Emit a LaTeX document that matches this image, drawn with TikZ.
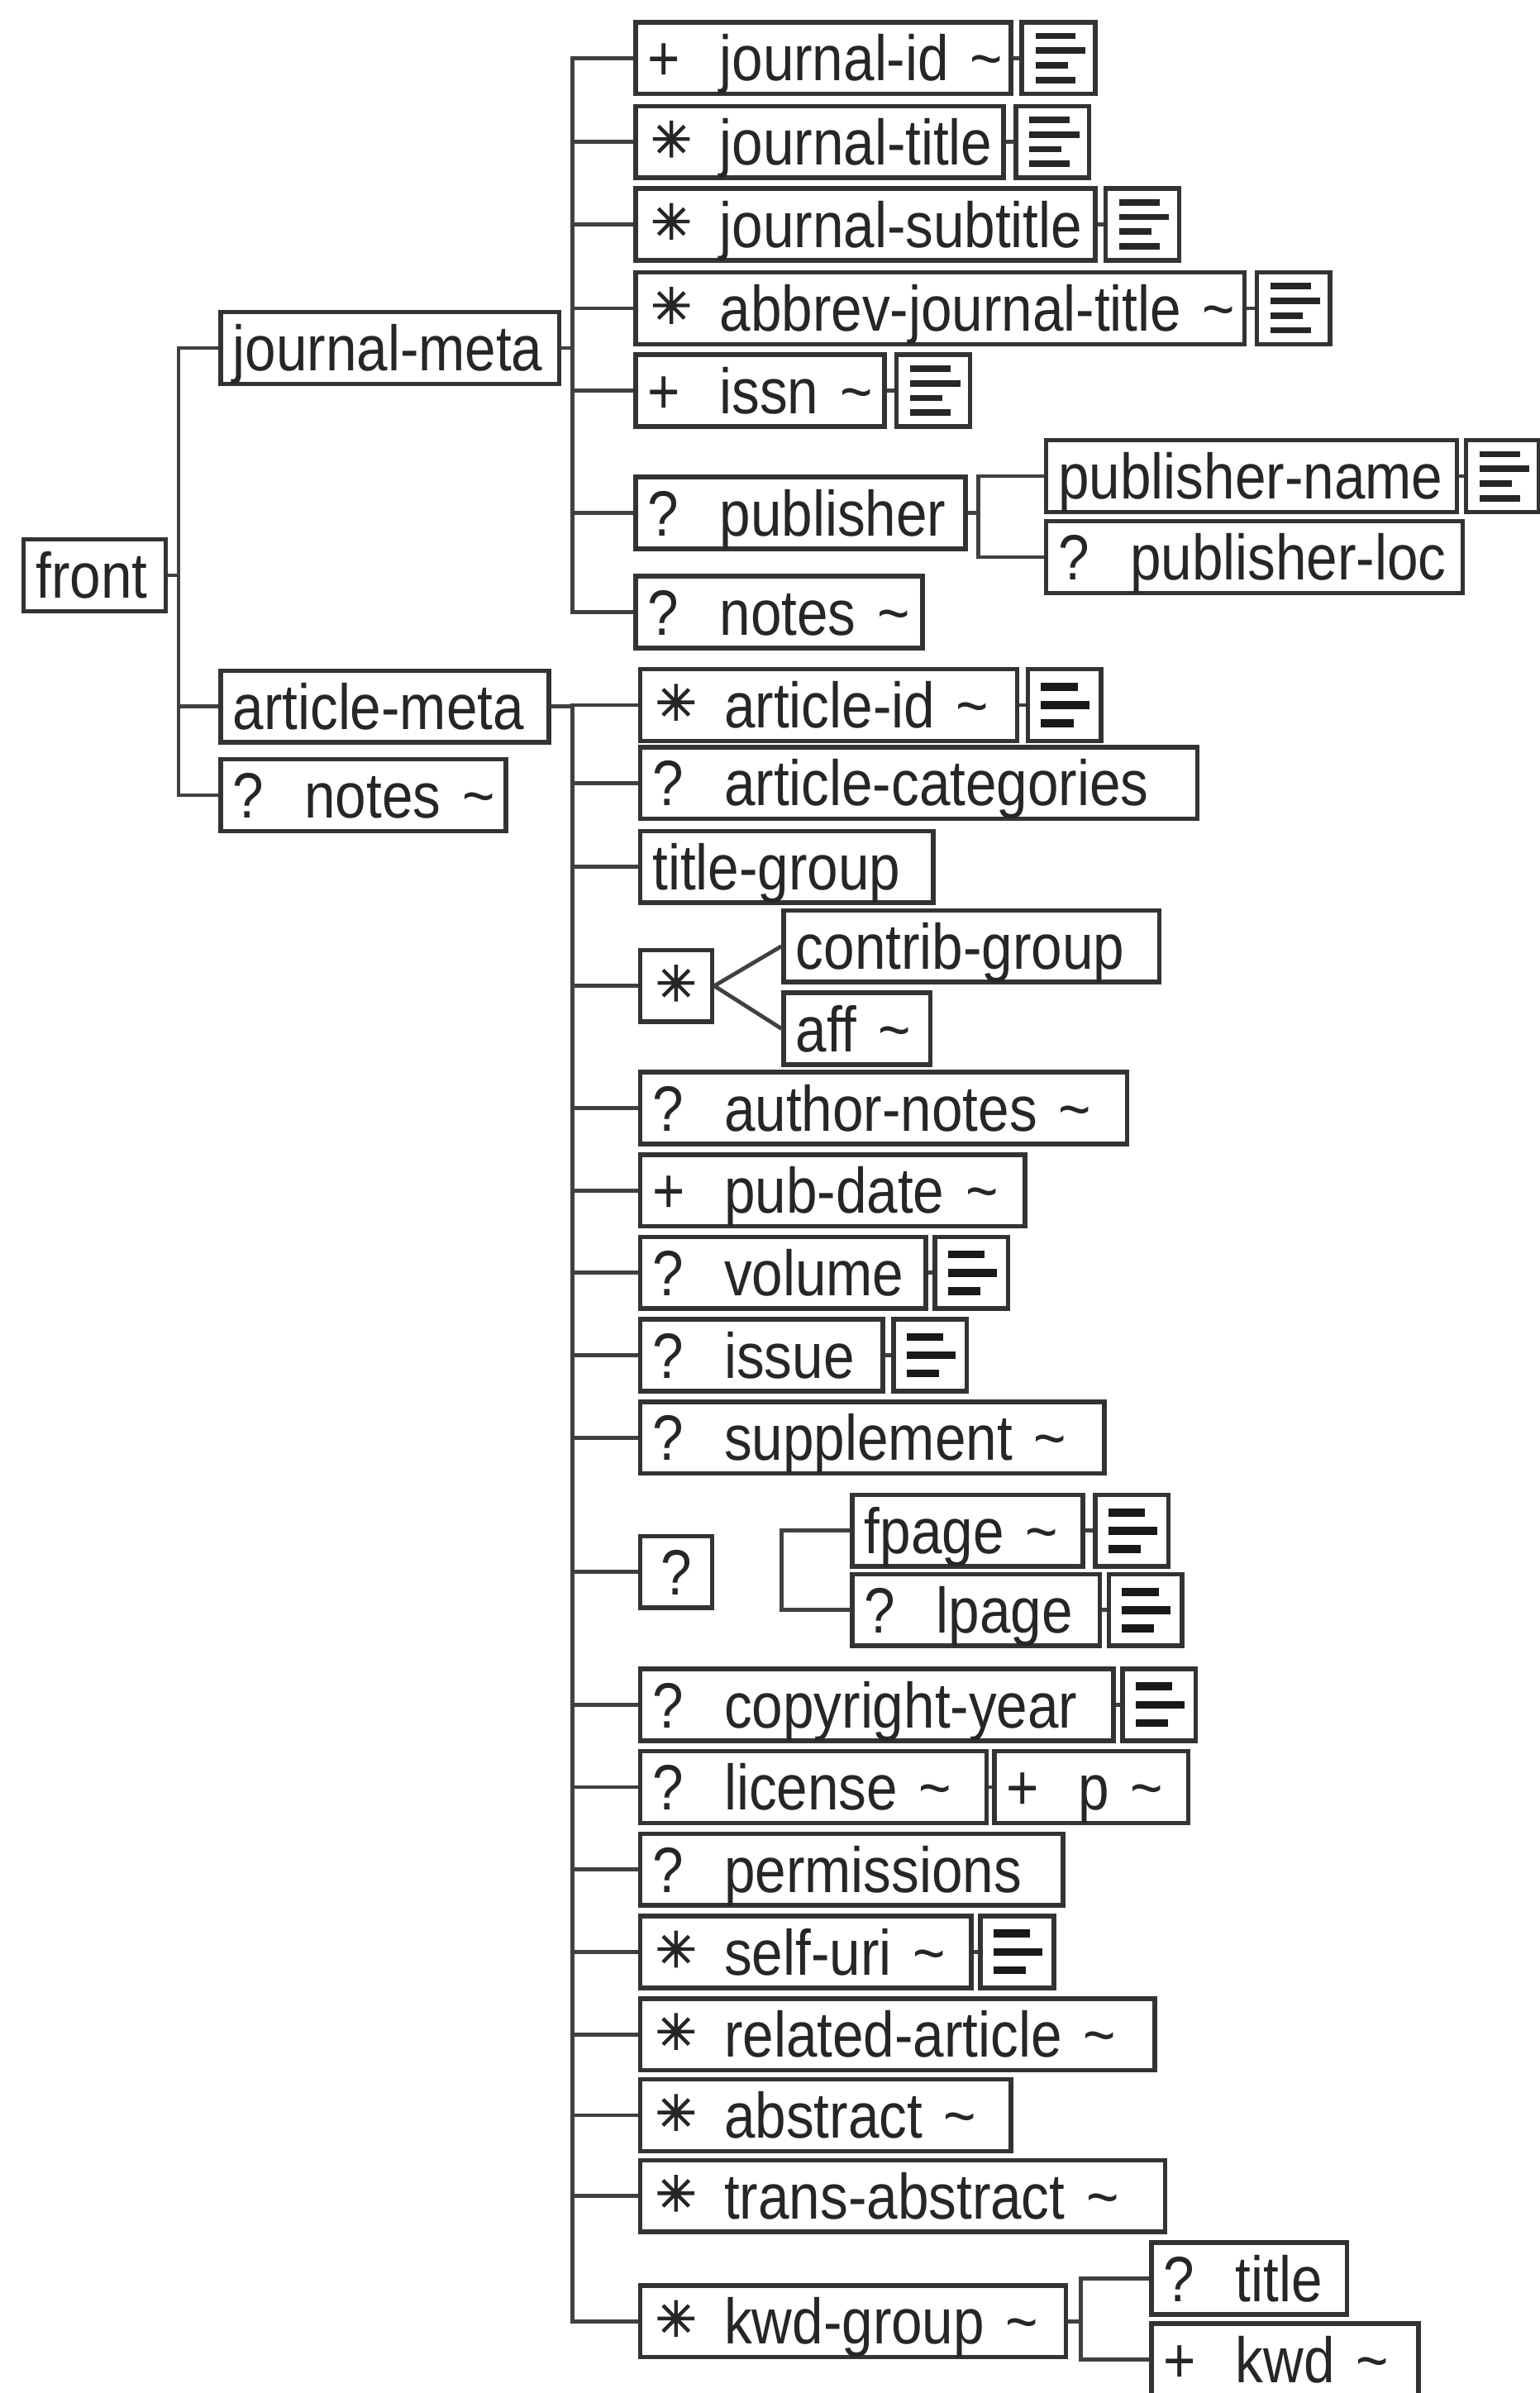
\documentclass[tikz,border=0pt]{standalone}
\usepackage{fontspec}
\usetikzlibrary{calc}
\newfontfamily\lab[FakeStretch=0.87]{Liberation Sans}
\newfontfamily\djv[FakeBold=2.5]{DejaVu Sans}
\newcommand\Tld{\textasciitilde}
\newcommand\Ppf[1]{\makebox[23.5pt][l]{#1}}
\newcommand\Pplus{\Ppf{+}}
\newcommand\Pq{\Ppf{?}}
\newcommand\Astk{\raisebox{2.6pt}{\djv\fontsize{16}{16}\selectfont ✳}}
\newcommand\Pst{\Ppf{\hspace{1pt}\Astk}}
\tikzset{
  el/.style={draw=black!80, line width=1.5pt, anchor=west, inner xsep=4pt, inner ysep=0pt,
    minimum height=23.5pt, text height=15pt, text depth=0pt, align=left,
    font=\lab\fontsize{21}{24}\selectfont, text=black!85, fill=white},
  elc/.style={el, align=center, inner xsep=0pt, minimum width=23.5pt},
  con/.style={draw=black!75, line width=1.3pt},
  icon/.style={draw=black!80, line width=1.5pt, anchor=west, minimum width=24pt,
    minimum height=23.5pt, inner sep=0pt, fill=white},
  icon4/.style={icon, path picture={
    \foreach \yy/\ll in {7.2/13.2, 2.4/16.3, -2.4/10.6, -7.2/13.2}
      \draw[line width=2.1pt, black!85] ([xshift=-7.5pt, yshift=\yy pt]path picture bounding box.center) -- ++(\ll pt,0pt);
  }},
  icon3/.style={icon, path picture={
    \foreach \yy/\ll in {6/12, 0/16, -6/10.6}
      \draw[line width=2.6pt, black!90] ([xshift=-7.7pt, yshift=\yy pt]path picture bounding box.center) -- ++(\ll pt,0pt);
  }}
}
\newcommand\elm[5]{%
  \pgfmathsetmacro\elw{(#3-#2)*0.5}%
  \pgfmathsetmacro\elt{(#3-#2)*0.5-8}%
  \node[el, minimum width=\elw pt, text width=\elt pt] (#1) at (#2,#4) {\mbox{#5}};%
}
\newcommand\ico[4]{\node[#4] (#1) at (#2,#3) {};}
\begin{document}
\begin{tikzpicture}[x=0.5pt, y=-0.5pt]
\useasboundingbox[fill=white] (0,0) rectangle (1009,1568);
% level 0 and 1
\elm{front}{14}{107}{377}{front}
\elm{jm}{143}{365}{228}{journal-meta}
\elm{am}{143}{358}{463}{article-meta}
\elm{notesA}{143}{330}{521}{\Pq notes \Tld}
% journal-meta children
\elm{jid}{415}{661}{38}{\Pplus journal-id \Tld}
\ico{jidI}{668}{38}{icon4}
\elm{jtitle}{415}{656}{93}{\Pst journal-title}
\ico{jtitleI}{664}{93}{icon4}
\elm{jsub}{415}{716}{147}{\Pst journal-subtitle}
\ico{jsubI}{723}{147}{icon4}
\elm{abbr}{415}{814}{202}{\Pst abbrev-journal-title \Tld}
\ico{abbrI}{822}{202}{icon4}
\elm{issn}{415}{578}{256}{\Pplus issn \Tld}
\ico{issnI}{586}{256}{icon4}
\elm{pub}{415}{631}{336}{\Pq publisher}
\elm{pubname}{684}{953}{312}{publisher-name}
\ico{pubnameI}{959}{312}{icon4}
\elm{publoc}{684}{957}{365}{\Pq publisher-loc}
\elm{notesB}{415}{603}{401}{\Pq notes \Tld}
% article-meta children
\elm{aid}{418}{665}{462}{\Pst article-id \Tld}
\ico{aidI}{672}{462}{icon3}
\elm{acat}{418}{783}{513}{\Pq article-categories}
\elm{tg}{418}{610}{568}{title-group}
\node[elc] (ch1) at (418,646) {\Astk};
\elm{contrib}{512}{758}{620}{contrib-group}
\elm{aff}{512}{608}{674}{aff \Tld}
\elm{anotes}{418}{737}{726}{\Pq author-notes \Tld}
\elm{pubdate}{418}{670}{780}{\Pplus pub-date \Tld}
\elm{vol}{418}{605}{834}{\Pq volume}
\ico{volI}{611}{834}{icon3}
\elm{iss}{418}{577}{888}{\Pq issue}
\ico{issI}{584}{888}{icon3}
\elm{supp}{418}{722}{942}{\Pq supplement \Tld}
\node[elc] (ch2) at (418,1030) {?};
\elm{fpage}{557}{708}{1003}{fpage \Tld}
\ico{fpageI}{716}{1003}{icon3}
\elm{lpage}{557}{719}{1055}{\Pq lpage}
\ico{lpageI}{725}{1055}{icon3}
\elm{cyear}{418}{728}{1117}{\Pq copyright-year}
\ico{cyearI}{734}{1117}{icon3}
\elm{lic}{418}{645}{1171}{\Pq license \Tld}
\elm{pp}{650}{777}{1171}{\Pplus p \Tld}
\elm{perm}{418}{695}{1225}{\Pq permissions}
\elm{suri}{418}{635}{1279}{\Pst self-uri \Tld}
\ico{suriI}{641}{1279}{icon3}
\elm{rel}{418}{755}{1333}{\Pst related-article \Tld}
\elm{abs}{418}{661}{1386}{\Pst abstract \Tld}
\elm{tabs}{418}{762}{1439}{\Pst trans-abstract \Tld}
\elm{kwdg}{418}{697}{1521}{\Pst kwd-group \Tld}
\elm{ktitle}{753}{881}{1493}{\Pq title}
\elm{kwd}{753}{928}{1546}{\Pplus kwd \Tld}
% connectors
\foreach \c in {jm,am,notesA} \draw[con] (front.east) -- ++(7,0) |- (\c.west);
\foreach \c in {jid,jtitle,jsub,abbr,issn,pub,notesB} \draw[con] (jm.east) -- ++(7,0) |- (\c.west);
\foreach \c in {pubname,publoc} \draw[con] (pub.east) -- ++(7,0) |- (\c.west);
\foreach \c in {aid,acat,tg,ch1,anotes,pubdate,vol,iss,supp,ch2,cyear,lic,perm,suri,rel,abs,tabs,kwdg}
  \draw[con] (am.east) -- ++(14,0) |- (\c.west);
\draw[con] (ch1.east) -- (contrib.west);
\draw[con] (ch1.east) -- (aff.west);
\draw[con] (fpage.west) -- ++(-45,0) |- (lpage.west);
\foreach \c in {ktitle,kwd} \draw[con] (kwdg.east) -- ++(8,0) |- (\c.west);
\draw[con] (lic.east) -- (pp.west);
\foreach \c in {jid,jtitle,jsub,abbr,issn,pubname,aid,vol,iss,fpage,lpage,cyear,suri}
  \draw[con] (\c.east) -- (\c I.west);
\end{tikzpicture}
\end{document}
